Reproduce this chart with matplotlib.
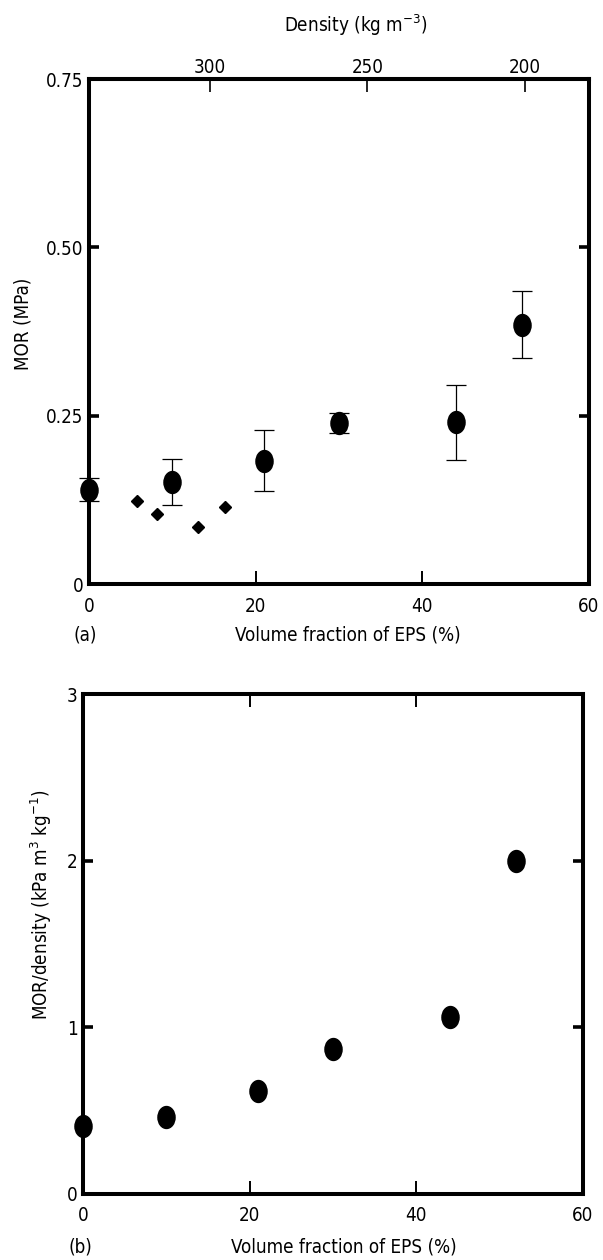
"""
MOR of EPS-filled foam vs volume fraction
Two stacked panels: (a) MOR with density scale on top, (b) MOR/density
"""

import numpy as np
import matplotlib
matplotlib.use("Agg")
import matplotlib.pyplot as plt
from matplotlib.path import Path
from matplotlib.markers import MarkerStyle
from matplotlib.transforms import Affine2D

plt.rcParams["font.family"] = ["DejaVu Sans"]
plt.rcParams["font.stretch"] = "condensed"
plt.rcParams["font.size"] = 13.5

# ── data ────────────────────────────────────────────────────────────────
eps_frac = [0, 10, 21, 30, 44, 52]                 # volume fraction EPS (%)
mor = [0.140, 0.152, 0.183, 0.239, 0.240, 0.385]   # MPa
mor_err = [0.017, 0.034, 0.045, 0.015, 0.056, 0.050]

diam_frac = [5.8, 8.2, 13.1, 16.3]
diam_mor = [0.124, 0.104, 0.085, 0.115]

mor_per_density = [0.41, 0.46, 0.62, 0.87, 1.06, 2.00]  # kPa m3 kg-1

density_ticks = [300, 250, 200]   # kg m-3, top scale of panel (a)
rho0, drho = 338.4, 2.646         # density = rho0 - drho * fraction

xticks = [0, 20, 40, 60]
yticks_a = [0, 0.25, 0.50, 0.75]
yticklabels_a = ["0", "0.25", "0.50", "0.75"]
yticks_b = [0, 1, 2, 3]

# slightly tall ellipse used as the filled marker
ELLIPSE = MarkerStyle(Path.unit_circle().transformed(Affine2D().scale(0.78, 1.0)))

SPINE_LW = 2.9


def frame(ax):
    for s in ax.spines.values():
        s.set_linewidth(SPINE_LW)
    ax.tick_params(axis="x", direction="in", length=9.5, width=1.4, pad=9)
    ax.tick_params(axis="y", direction="in", length=7, width=2.6, pad=4)
    ax.tick_params(which="both", color="black", labelcolor="black")


fig = plt.figure(figsize=(6.03, 12.6), dpi=100, facecolor="white")

# ════════════════════════════════════════════════════════════════════════
# (a) MOR
# ════════════════════════════════════════════════════════════════════════
ax = fig.add_axes([0.1476, 0.5365, 0.8292, 0.4008])
frame(ax)
ax.set_xlim(0, 60)
ax.set_ylim(0, 0.75)
ax.set_xticks(xticks)
ax.set_yticks(yticks_a)
ax.set_yticklabels(yticklabels_a)
ax.tick_params(axis="y", right=True)
ax.tick_params(axis="x", top=False)

ax.errorbar(eps_frac, mor, yerr=mor_err, fmt="none", ecolor="black",
            elinewidth=0.9, capsize=7, capthick=0.9, clip_on=False, zorder=3)
ax.plot(eps_frac, mor, ls="none", marker=ELLIPSE, ms=15.8,
        color="black", clip_on=False, zorder=4)
ax.plot(diam_frac, diam_mor, ls="none", marker="D", ms=6.2,
        color="black", zorder=4)

secax = ax.secondary_xaxis("top", functions=(lambda f: rho0 - drho * f,
                                             lambda r: (rho0 - r) / drho))
secax.set_xticks(density_ticks)
secax.tick_params(direction="in", length=9.5, width=1.2, pad=1.5)
secax.spines["top"].set_linewidth(SPINE_LW)

ax.text(0.534, 1.107, r"Density (kg m$^{-3}$)", transform=ax.transAxes,
        ha="center", va="center")
ax.text(-0.132, 0.515, "MOR (MPa)", transform=ax.transAxes,
        ha="center", va="center", rotation=90)
ax.text(0.518, -0.101, "Volume fraction of EPS (%)", transform=ax.transAxes,
        ha="center", va="center")
ax.text(-0.008, -0.101, "(a)", transform=ax.transAxes,
        ha="center", va="center")

# ════════════════════════════════════════════════════════════════════════
# (b) MOR / density
# ════════════════════════════════════════════════════════════════════════
bx = fig.add_axes([0.1376, 0.0524, 0.8292, 0.3968])
frame(bx)
bx.set_xlim(0, 60)
bx.set_ylim(0, 3)
bx.set_xticks(xticks)
bx.set_yticks(yticks_b)
bx.tick_params(axis="y", right=True)
bx.tick_params(axis="x", top=True)

bx.plot(eps_frac, mor_per_density, ls="none", marker=ELLIPSE, ms=15.8,
        color="black", clip_on=False, zorder=4)

bx.text(-0.084, 0.578, r"MOR/density (kPa m$^{3}$ kg$^{-1}$)",
        transform=bx.transAxes, ha="center", va="center", rotation=90)
bx.text(0.522, -0.106, "Volume fraction of EPS (%)", transform=bx.transAxes,
        ha="center", va="center")
bx.text(-0.006, -0.106, "(b)", transform=bx.transAxes,
        ha="center", va="center")

plt.savefig("out.png", dpi=100, facecolor="white")
plt.close()
